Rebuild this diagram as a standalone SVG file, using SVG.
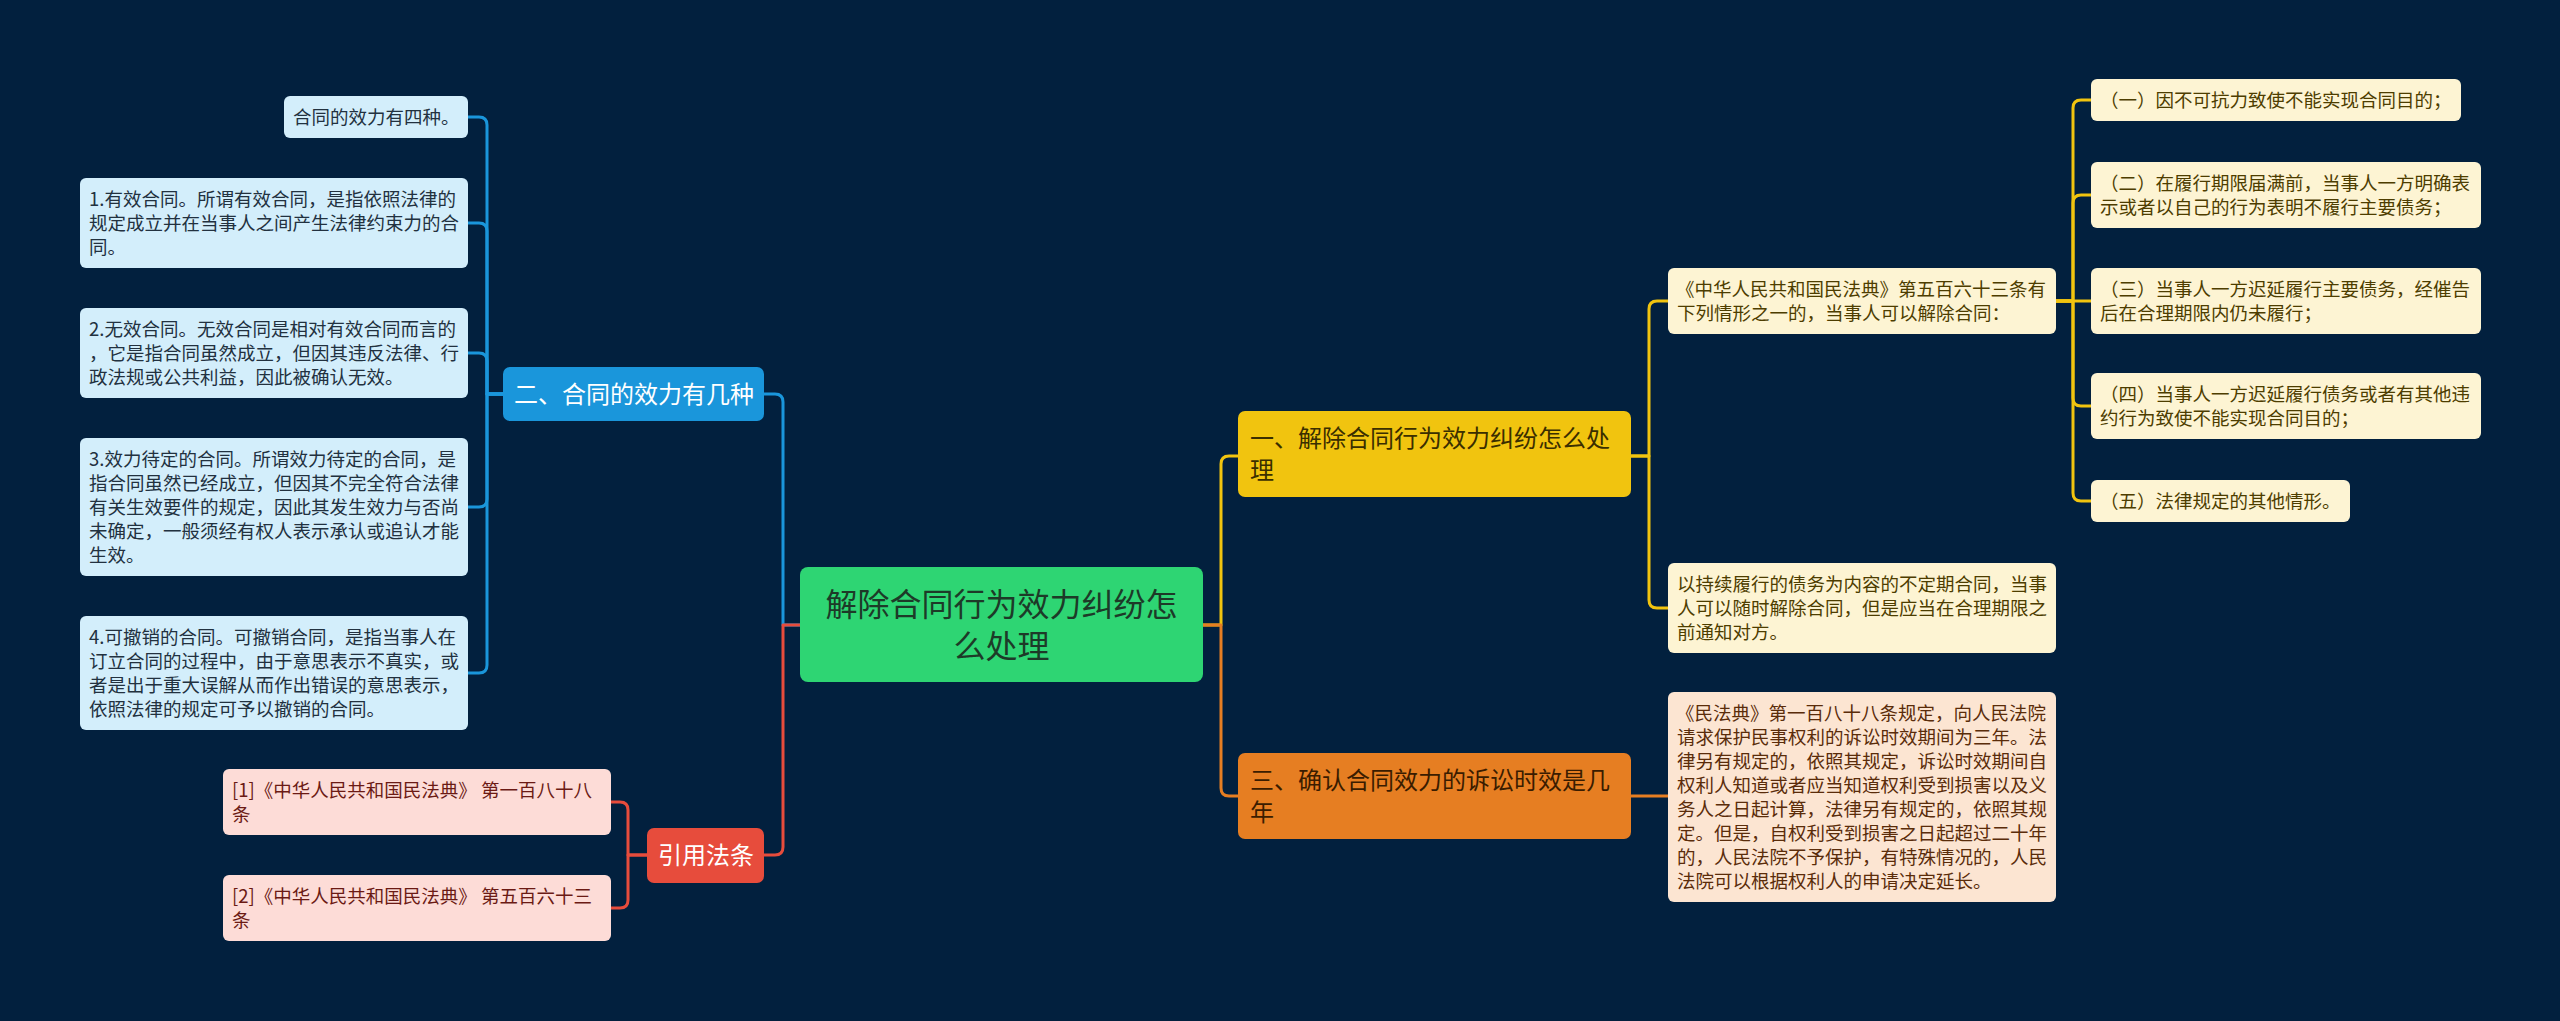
<svg xmlns="http://www.w3.org/2000/svg" width="2560" height="1021" viewBox="0 0 2560 1021">
<style>
text{font-family:"Noto Sans CJK SC","Noto Sans",sans-serif;}
.leaf{font-size:18.5px;}
.l1{font-size:24px;}
.root{font-size:32px;fill:#1d3a28;text-anchor:middle;}
.lb rect{fill:#d3eefb;} .lb text{fill:#22313f;}
.pk rect{fill:#fddcd7;} .pk text{fill:#6b1a14;}
.cr rect{fill:#fdf4d3;} .cr text{fill:#4d3d00;}
.pc rect{fill:#fce5d2;} .pc text{fill:#5a2c0a;}
.c{fill:none;stroke-width:3;stroke-linecap:round;stroke-linejoin:round;}
.cb{stroke:#1a96db;} .cred{stroke:#e74c3c;} .cy{stroke:#f1c40f;} .co{stroke:#e67e22;}
</style>
<rect x="0" y="0" width="2560" height="1021" fill="#02203e"/>

<g id="connectors">
  <path class="c cb" d="M800,625 H783 V402 Q783,394 775,394 H764"/>
  <path class="c cred" d="M800,625 H783 V847 Q783,855 775,855 H764"/>
  <path class="c cb" d="M503,394 H487 V125 Q487,117 479,117 H468"/>
  <path class="c cb" d="M503,394 H487 V231 Q487,223 479,223 H468"/>
  <path class="c cb" d="M503,394 H487 V361 Q487,353 479,353 H468"/>
  <path class="c cb" d="M503,394 H487 V499 Q487,507 479,507 H468"/>
  <path class="c cb" d="M503,394 H487 V665 Q487,673 479,673 H468"/>
  <path class="c cred" d="M647,855 H628 V810 Q628,802 620,802 H611"/>
  <path class="c cred" d="M647,855 H628 V900 Q628,908 620,908 H611"/>
  <path class="c cy" d="M1203,625 H1221 V464 Q1221,456 1229,456 H1238"/>
  <path class="c co" d="M1203,625 H1221 V788 Q1221,796 1229,796 H1238"/>
  <path class="c cy" d="M1631,456 H1649 V309 Q1649,301 1657,301 H1668"/>
  <path class="c cy" d="M1631,456 H1649 V600 Q1649,608 1657,608 H1668"/>
  <path class="c co" d="M1631,796 H1668"/>
  <path class="c cy" d="M2056,301 H2073 V108 Q2073,100 2081,100 H2091"/>
  <path class="c cy" d="M2056,301 H2073 V203 Q2073,195 2081,195 H2091"/>
  <path class="c cy" d="M2056,301 H2091"/>
  <path class="c cy" d="M2056,301 H2073 V398 Q2073,406 2081,406 H2091"/>
  <path class="c cy" d="M2056,301 H2073 V493 Q2073,501 2081,501 H2091"/>
</g>

<g id="root">
  <rect x="800" y="567" width="403" height="115" rx="8" fill="#2ed573"/>
  <text class="root" x="1001.5" y="616">解除合同行为效力纠纷怎</text>
  <text class="root" x="1001.5" y="658">么处理</text>
</g>

<g id="n-yi">
  <rect x="1238" y="411" width="393" height="86" rx="7" fill="#f1c40f"/>
  <text class="l1" x="1250" y="447" fill="#3a2e00">一、解除合同行为效力纠纷怎么处</text>
  <text class="l1" x="1250" y="479" fill="#3a2e00">理</text>
</g>

<g id="n-san">
  <rect x="1238" y="753" width="393" height="86" rx="7" fill="#e67e22"/>
  <text class="l1" x="1250" y="789" fill="#3a1c00">三、确认合同效力的诉讼时效是几</text>
  <text class="l1" x="1250" y="821" fill="#3a1c00">年</text>
</g>

<g id="n-er">
  <rect x="503" y="367" width="261" height="54" rx="7" fill="#1a96db"/>
  <text class="l1" x="514" y="403" fill="#ffffff">二、合同的效力有几种</text>
</g>

<g id="n-yinyong">
  <rect x="647" y="828" width="117" height="55" rx="7" fill="#e74c3c"/>
  <text class="l1" x="658" y="864" fill="#ffffff">引用法条</text>
</g>

<g id="b0" class="lb">
  <rect x="284" y="96" width="184" height="42" rx="6"/>
  <text class="leaf" x="293" y="124">合同的效力有四种。</text>
</g>
<g id="b1" class="lb">
  <rect x="80" y="178" width="388" height="90" rx="6"/>
  <text class="leaf" x="89" y="206">1.有效合同。所谓有效合同，是指依照法律的</text>
  <text class="leaf" x="89" y="230">规定成立并在当事人之间产生法律约束力的合</text>
  <text class="leaf" x="89" y="254">同。</text>
</g>
<g id="b2" class="lb">
  <rect x="80" y="308" width="388" height="90" rx="6"/>
  <text class="leaf" x="89" y="336">2.无效合同。无效合同是相对有效合同而言的</text>
  <text class="leaf" x="89" y="360">，它是指合同虽然成立，但因其违反法律、行</text>
  <text class="leaf" x="89" y="384">政法规或公共利益，因此被确认无效。</text>
</g>
<g id="b3" class="lb">
  <rect x="80" y="438" width="388" height="138" rx="6"/>
  <text class="leaf" x="89" y="466">3.效力待定的合同。所谓效力待定的合同，是</text>
  <text class="leaf" x="89" y="490">指合同虽然已经成立，但因其不完全符合法律</text>
  <text class="leaf" x="89" y="514">有关生效要件的规定，因此其发生效力与否尚</text>
  <text class="leaf" x="89" y="538">未确定，一般须经有权人表示承认或追认才能</text>
  <text class="leaf" x="89" y="562">生效。</text>
</g>
<g id="b4" class="lb">
  <rect x="80" y="616" width="388" height="114" rx="6"/>
  <text class="leaf" x="89" y="644">4.可撤销的合同。可撤销合同，是指当事人在</text>
  <text class="leaf" x="89" y="668">订立合同的过程中，由于意思表示不真实，或</text>
  <text class="leaf" x="89" y="692">者是出于重大误解从而作出错误的意思表示，</text>
  <text class="leaf" x="89" y="716">依照法律的规定可予以撤销的合同。</text>
</g>

<g id="r1" class="pk">
  <rect x="223" y="769" width="388" height="66" rx="6"/>
  <text class="leaf" x="232" y="797">[1]《中华人民共和国民法典》 第一百八十八</text>
  <text class="leaf" x="232" y="821">条</text>
</g>
<g id="r2" class="pk">
  <rect x="223" y="875" width="388" height="66" rx="6"/>
  <text class="leaf" x="232" y="903">[2]《中华人民共和国民法典》 第五百六十三</text>
  <text class="leaf" x="232" y="927">条</text>
</g>

<g id="y-a" class="cr">
  <rect x="1668" y="268" width="388" height="66" rx="6"/>
  <text class="leaf" x="1676" y="296">《中华人民共和国民法典》第五百六十三条有</text>
  <text class="leaf" x="1677" y="320">下列情形之一的，当事人可以解除合同：</text>
</g>
<g id="y-1" class="cr">
  <rect x="2091" y="79" width="370" height="42" rx="6"/>
  <text class="leaf" x="2100" y="107">（一）因不可抗力致使不能实现合同目的；</text>
</g>
<g id="y-2" class="cr">
  <rect x="2091" y="162" width="390" height="66" rx="6"/>
  <text class="leaf" x="2100" y="190">（二）在履行期限届满前，当事人一方明确表</text>
  <text class="leaf" x="2100" y="214">示或者以自己的行为表明不履行主要债务；</text>
</g>
<g id="y-3" class="cr">
  <rect x="2091" y="268" width="390" height="66" rx="6"/>
  <text class="leaf" x="2100" y="296">（三）当事人一方迟延履行主要债务，经催告</text>
  <text class="leaf" x="2100" y="320">后在合理期限内仍未履行；</text>
</g>
<g id="y-4" class="cr">
  <rect x="2091" y="373" width="390" height="66" rx="6"/>
  <text class="leaf" x="2100" y="401">（四）当事人一方迟延履行债务或者有其他违</text>
  <text class="leaf" x="2100" y="425">约行为致使不能实现合同目的；</text>
</g>
<g id="y-5" class="cr">
  <rect x="2091" y="480" width="259" height="42" rx="6"/>
  <text class="leaf" x="2100" y="508">（五）法律规定的其他情形。</text>
</g>
<g id="y-b" class="cr">
  <rect x="1668" y="563" width="388" height="90" rx="6"/>
  <text class="leaf" x="1677" y="591">以持续履行的债务为内容的不定期合同，当事</text>
  <text class="leaf" x="1677" y="615">人可以随时解除合同，但是应当在合理期限之</text>
  <text class="leaf" x="1677" y="639">前通知对方。</text>
</g>

<g id="o-a" class="pc">
  <rect x="1668" y="692" width="388" height="210" rx="6"/>
  <text class="leaf" x="1676" y="720">《民法典》第一百八十八条规定，向人民法院</text>
  <text class="leaf" x="1677" y="744">请求保护民事权利的诉讼时效期间为三年。法</text>
  <text class="leaf" x="1677" y="768">律另有规定的，依照其规定，诉讼时效期间自</text>
  <text class="leaf" x="1677" y="792">权利人知道或者应当知道权利受到损害以及义</text>
  <text class="leaf" x="1677" y="816">务人之日起计算，法律另有规定的，依照其规</text>
  <text class="leaf" x="1677" y="840">定。但是，自权利受到损害之日起超过二十年</text>
  <text class="leaf" x="1677" y="864">的，人民法院不予保护，有特殊情况的，人民</text>
  <text class="leaf" x="1677" y="888">法院可以根据权利人的申请决定延长。</text>
</g>
</svg>
